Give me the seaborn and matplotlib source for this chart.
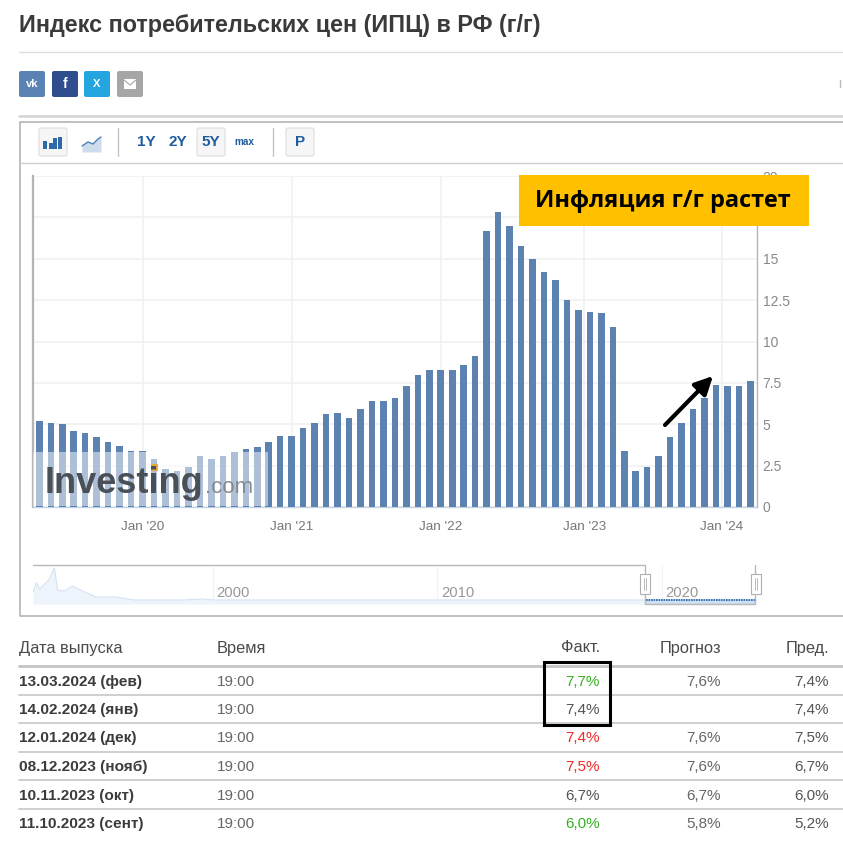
import numpy as np
import pandas as pd
import matplotlib
matplotlib.use("Agg")
import matplotlib.pyplot as plt
from matplotlib.patches import FancyBboxPatch, Rectangle
import seaborn as sns

# values
cpi_values = [
    5.2, 5.1, 5.0, 4.6, 4.5, 4.2, 3.9, 3.7, 3.4, 3.4,
    2.9, 2.3, 2.2, 2.4, 3.1, 2.9, 3.1, 3.3, 3.5, 3.6,
    3.9, 4.3, 4.3, 4.8, 5.1, 5.6, 5.7, 5.4, 5.9, 6.4,
    6.4, 6.6, 7.3, 8.0, 8.3, 8.3, 8.3, 8.6, 9.1, 16.7,
    17.8, 17.0, 15.8, 15.0, 14.2, 13.7, 12.5, 11.9, 11.8, 11.7,
    10.9, 3.4, 2.2, 2.4, 3.1, 4.2, 5.1, 5.9, 6.6, 7.4,
    7.3, 7.3, 7.6,
]
year_ticks = [9, 22, 35, 47.5, 59.5]
year_labels = ["Jan '20", "Jan '21", "Jan '22", "Jan '23", "Jan '24"]
y_ticks = [0, 2.5, 5, 7.5, 10, 12.5, 15, 17.5, 20]
y_labels = ["0", "2.5", "5", "7.5", "10", "12.5", "15", "17.5", "20"]

# navigator strip under the chart
mini_years = [1992, 1992.15, 1992.3, 1992.7, 1992.95, 1993.1, 1993.4, 1993.75, 1994.2,
              1994.8, 1995.7, 1996.5, 1998.7, 1999.5, 2000.1, 2005, 2010, 2015, 2019.3, 2024.2]
mini_values = [12, 21, 15, 24, 36, 14, 13, 18, 13, 7, 7, 4, 4, 5, 4, 4, 4, 4, 4, 4]
mini_labels = ["2000", "2010", "2020"]
mini_label_years = [2000, 2010, 2020]

# table under the chart
headers = ["Дата выпуска", "Время", "Факт.", "Прогноз", "Пред."]
dates = ["13.03.2024 (фев)", "14.02.2024 (янв)", "12.01.2024 (дек)",
         "08.12.2023 (нояб)", "10.11.2023 (окт)", "11.10.2023 (сент)"]
times = ["19:00"] * 6
actual = ["7,7%", "7,4%", "7,4%", "7,5%", "6,7%", "6,0%"]
forecast = ["7,6%", "", "7,6%", "7,6%", "6,7%", "5,8%"]
previous = ["7,4%", "7,4%", "7,5%", "6,7%", "6,0%", "5,2%"]
actual_colors = ["#35b020", "#555555", "#f02828", "#f02828", "#555555", "#35b020"]

W, H = 843, 850


def px_rect(x0, y0, x1, y1):
    return [x0 / W, 1 - y1 / H, (x1 - x0) / W, (y1 - y0) / H]


sns.set_theme(style="white")
plt.rcParams["font.family"] = ["Liberation Sans", "DejaVu Sans"]

fig = plt.figure(figsize=(W / 100, H / 100), dpi=100, facecolor="white")

# main bar chart
ax = fig.add_axes(px_rect(33, 176, 757, 507))
df = pd.DataFrame({"month": range(len(cpi_values)), "cpi": cpi_values})
sns.barplot(data=df, x="month", y="cpi", color="#5b82b1", saturation=1, width=0.57, linewidth=0, ax=ax, zorder=3)
ax.set_xlim(-0.55, 62.57)
ax.set_ylim(0, 20)
ax.set_xlabel("")
ax.set_ylabel("")
ax.set_xticks(year_ticks)
ax.set_xticklabels(year_labels, color="#777777", fontsize=9.7)
ax.yaxis.tick_right()
ax.set_yticks(y_ticks)
ax.set_yticklabels(y_labels, color="#888888", fontsize=10)
ax.tick_params(axis="x", length=0, pad=10)
ax.tick_params(axis="y", length=0, pad=4)
ax.grid(True, color="#f1f1f1", linewidth=1.2, zorder=0)
ax.set_axisbelow(True)
ax.spines["top"].set_visible(False)
ax.spines["left"].set_color("#b5b5b5")
ax.spines["left"].set_linewidth(1.6)
ax.spines["right"].set_color("#b5b5b5")
ax.spines["right"].set_linewidth(1)
ax.spines["bottom"].set_color("#c4d2e2")
ax.spines["bottom"].set_linewidth(1)

# navigator
mini = fig.add_axes(px_rect(33, 565, 757, 604))
mini.set_xlim(1992, 2024.25)
mini.set_ylim(0, 39)
mini.axis("off")
mini.fill_between(mini_years, mini_values, color="#eef4fb", linewidth=0)
sns.lineplot(x=mini_years, y=mini_values, color="#d3e2f2", linewidth=0.8, ax=mini, errorbar=None)
mini.set_xlabel("")
mini.set_ylabel("")
mini.fill_between([2019.3, 2024.16], [4, 4], color="#cfe0f3", linewidth=0)
mini.plot([2019.3, 2024.16], [4, 4], color="#1f5fa8", linewidth=1.2, ls=(0, (1, 0.5)))
for yr, lab in zip(mini_label_years, mini_labels):
    mini.axvline(yr, color="#f3f3f3", linewidth=0.8, zorder=0)
    mini.text(yr + 0.18, 11, lab, color="#999999", fontsize=10.7, va="center")

# everything else is page furniture, drawn in pixel coordinates
page = fig.add_axes([0, 0, 1, 1], zorder=10)
page.set_xlim(0, W)
page.set_ylim(H, 0)
page.axis("off")
page.patch.set_alpha(0)

page.text(19, 25, "Индекс потребительских цен (ИПЦ) в РФ (г/г)", fontsize=16.85, fontweight="bold",
          color="#3a3a3a", va="center")
page.plot([19, 843], [52, 52], color="#dddddd", lw=1)
page.plot([840, 840], [80, 87], color="#bbbbbb", lw=1)

# share buttons
share_x = [19, 52, 84, 117]
share_colors = ["#5a82b5", "#2f4e8e", "#24a5e0", "#a6a6a6"]
share_text = ["vk", "f", "X", ""]
for x, c, t in zip(share_x, share_colors, share_text):
    page.add_patch(FancyBboxPatch((x + 2, 73), 22, 22, boxstyle="round,pad=2", fc=c, ec="none"))
    page.text(x + 13, 84, t, color="white", fontsize=8 if t != "f" else 10, fontweight="bold",
              ha="center", va="center")
page.add_patch(Rectangle((124, 79), 12, 10, fc="white", ec="none"))
page.plot([124, 130, 136], [80, 85, 80], color="#a6a6a6", lw=0.8)

# chart frame and toolbar
page.plot([19, 843], [116, 116], color="#d4d4d4", lw=1.8)
page.plot([843, 20, 20, 843], [122, 122, 616, 616], color="#b4b4b4", lw=1.2)
page.plot([20, 843], [163, 163], color="#cfcfcf", lw=1)
for x0, x1 in [(39, 67), (197, 225), (286, 314)]:
    page.add_patch(FancyBboxPatch((x0 + 2, 130), x1 - x0 - 4, 24, boxstyle="round,pad=2",
                                  fc="#f6f6f6", ec="#dddddd", lw=0.8))
for x, h in zip([43, 49, 53, 58], [8, 6, 11, 12]):
    page.add_patch(Rectangle((x, 149 - h), 4, h, fc="#2f6aa8", ec="none"))
page.fill_between([82, 88, 93, 98, 101], [146, 142, 144, 139, 137], [152, 152, 152, 152, 152],
                  color="#cfdcec", linewidth=0)
page.plot([82, 88, 93, 98, 101], [146, 142, 144, 139, 137], color="#4b7fb5", lw=1)
for x in [118, 273]:
    page.plot([x, x], [128, 156], color="#c4c4c4", lw=1)
for x, t, fs in [(146, "1Y", 11), (178, "2Y", 11), (211, "5Y", 11), (244, "max", 7.2), (300, "P", 11)]:
    page.text(x, 142, t, color="#1f5c9e", fontsize=fs, fontweight="bold", ha="center", va="center")

# watermark over the first bars
page.add_patch(Rectangle((33, 452), 235, 54, fc="white", alpha=0.5, ec="none"))
page.text(45, 483, "Investing", fontsize=26, fontweight="bold", color="#4a5058", va="center")
page.text(205, 487, ".com", fontsize=16, color="#858a90", va="center")
page.add_patch(Rectangle((151, 464), 7, 7, fc="#e8a93a", ec="none"))

# callout and arrow
page.add_patch(Rectangle((519, 175), 290, 51, fc="#ffc000", ec="none"))
page.text(663, 201, "Инфляция г/г растет", fontsize=16.9, fontweight="bold", color="black",
          family=["Open Sans", "DejaVu Sans"], ha="center", va="center")
page.annotate("", xy=(713, 376), xytext=(665, 425),
              arrowprops=dict(arrowstyle="-|>,head_length=0.9,head_width=0.45", color="black", lw=3,
                              shrinkA=0, shrinkB=0))

# navigator frame and handles
page.plot([33, 645], [565, 565], color="#b8b8b8", lw=1)
page.plot([645, 645, 755, 755], [565, 604, 604, 565], color="#b8b8b8", lw=1)
for x in [645, 756]:
    page.add_patch(Rectangle((x - 5, 574), 10, 20, fc="white", ec="#b0b0b0", lw=0.8, zorder=3))
    page.plot([x - 1, x - 1], [578, 590], color="#b0b0b0", lw=0.6, zorder=4)
    page.plot([x + 1, x + 1], [578, 590], color="#b0b0b0", lw=0.6, zorder=4)

# table
row_y = [682, 710, 738, 767, 796, 824]
line_y = [695, 723, 752, 780, 809]
header_x = [19, 217, 600, 721, 829]
header_ha = ["left", "left", "right", "right", "right"]
for x, ha, t in zip(header_x, header_ha, headers):
    page.text(x, 648, t, fontsize=11.8, color="#4a4a4a", ha=ha, va="center")
page.plot([19, 843], [666, 666], color="#c4c4c4", lw=2)
for y in line_y:
    page.plot([19, 843], [y, y], color="#cccccc", lw=1.3)
for i, y in enumerate(row_y):
    page.text(19, y, dates[i], fontsize=11.1, fontweight="bold", color="#3c3c3c", va="center")
    page.text(217, y, times[i], fontsize=11, color="#666666", va="center")
    page.text(600, y, actual[i], fontsize=11, color=actual_colors[i], ha="right", va="center")
    page.text(721, y, forecast[i], fontsize=11, color="#666666", ha="right", va="center")
    page.text(829, y, previous[i], fontsize=11, color="#555555", ha="right", va="center")
page.add_patch(Rectangle((544, 662), 66, 63, fc="none", ec="black", lw=2.2, zorder=5))

fig.savefig("out.png", dpi=100)
